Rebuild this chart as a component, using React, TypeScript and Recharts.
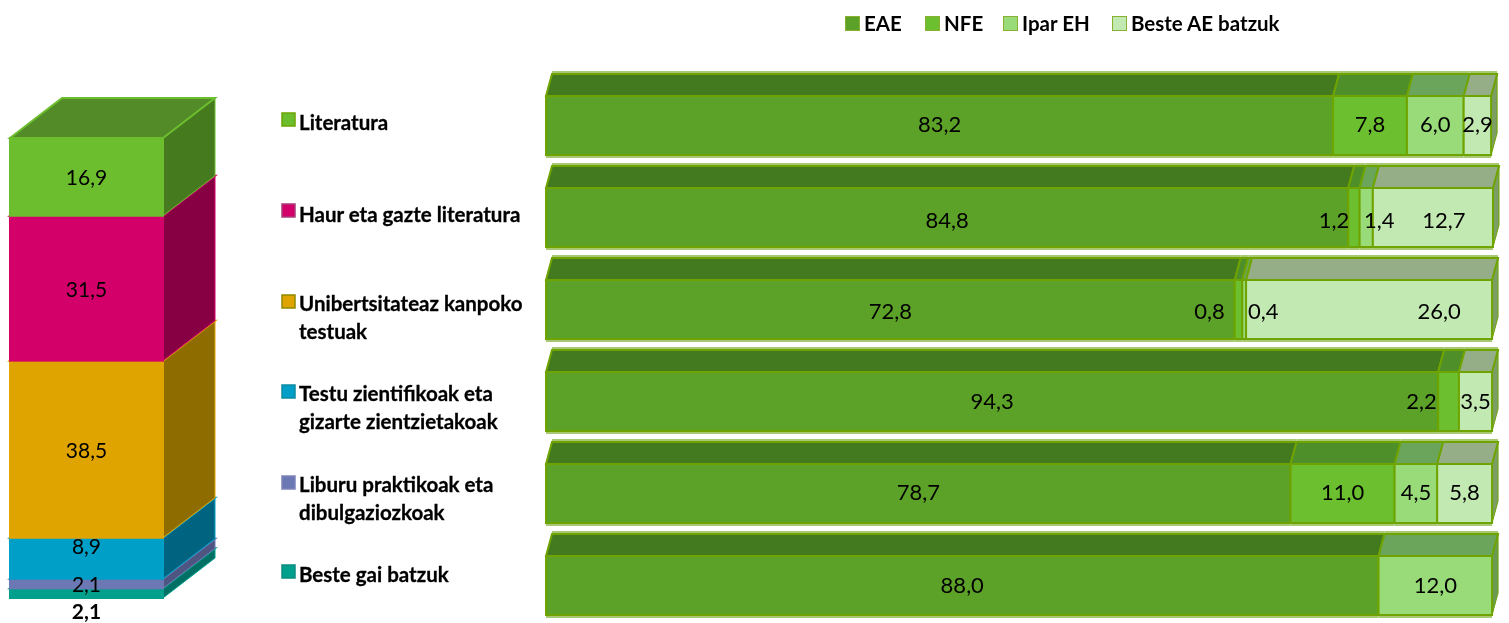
import { Bar, BarChart, LabelList, Legend, XAxis, YAxis } from 'recharts';

// left column, listed bottom to top
const topicNames = ['Beste gai batzuk', 'Liburu praktikoak', 'Testu zientifikoak', 'Unibertsitatez kanpoko', 'Haur eta gazte', 'Literatura'];
const topicShares = [2.1, 2.1, 8.9, 38.5, 31.5, 16.9];
const topicColors = ['#00A08C', '#6C78B4', '#009FC8', '#E0A400', '#D4006A', '#6CBE2F'];
const topicSides = ['#007064', '#4E5580', '#006480', '#8F6C00', '#880044', '#467A1E'];

// right bars
const rowLabels = [
  ['Literatura'],
  ['Haur eta gazte literatura'],
  ['Unibertsitateaz kanpoko', 'testuak'],
  ['Testu zientifikoak eta', 'gizarte zientzietakoak'],
  ['Liburu praktikoak eta', 'dibulgaziozkoak'],
  ['Beste gai batzuk'],
];
const rowSwatches = ['#6CBE2F', '#D4006A', '#E0A400', '#009FC8', '#6C78B4', '#00A08C'];
const swatchEdges = ['#6FA400', '#A83C78', '#8F8A00', '#0E8CA0', '#7C84B8', '#0E8C80'];
const eae = [83.2, 84.8, 72.8, 94.3, 78.7, 88.0];
const nfe = [7.8, 1.2, 0.8, 2.2, 11.0, 0];
const ipar = [6.0, 1.4, 0.4, 0, 4.5, 12.0];
const beste = [2.9, 12.7, 26.0, 3.5, 5.8, 0];

const regionNames = ['EAE', 'NFE', 'Ipar EH', 'Beste AE batzuk'];
const regionKeys = ['eae', 'nfe', 'ipar', 'beste'];
const regionColors = ['#5CA228', '#6CC030', '#98DB78', '#C2E9B2'];
const regionTops = ['#437A1F', '#4F8F2A', '#6BA55C', '#96AE88'];
const regionSides = ['#5c8a35', '#5c8a35', '#6b9a55', '#7C9E66'];

const columnData = [
  Object.fromEntries(topicNames.map((n, i) => [n, topicShares[i]])),
];
const rowData = rowLabels.map((label, i) => ({
  name: label.join(' '),
  eae: eae[i],
  nfe: nfe[i],
  ipar: ipar[i],
  beste: beste[i],
}));

// hand placed nudges, the source moved these labels off centre
const columnLabelDy = [17, 0, -13, 0, 0, 0];
const rowLabelDx: number[][] = [
  [0, 0, 0, 0],
  [0, -20, 13, 11],
  [0, -29, 19, 70],
  [0, -27, 0, 0],
  [0, 0, 0, 0],
  [0, 0, 0, 0],
];
const rowLabelDy = [-2, 2, 1, -1, -2, -1];
const tickDy = [-3, -4, -5, -7, -8, -11];
const tickTextDy = [8, 9, 7, 7, 7, 8];

const FONT = 'Lato, sans-serif';
const EDGE = '#6FA400';
const GLOW = '#A9C873';

const fmt = (v: number) => v.toFixed(1).replace('.', ',');

const Box3D = (props: any) => {
  const { x, y, width, height, fill, top, side, edge, dx, dy, glow } = props;
  if (!width || !height) return null;
  const r = x + width;
  const b = y + height;
  return (
    <g>
      <polygon
        points={`${r},${y} ${r + dx},${y - dy} ${r + dx},${b - dy} ${r},${b}`}
        fill={side}
        stroke={edge}
        strokeWidth={1}
      />
      <polygon
        points={`${x},${y} ${x + dx},${y - dy} ${r + dx},${y - dy} ${r},${y}`}
        fill={top}
        stroke={edge}
        strokeWidth={2}
      />
      <rect x={x} y={y} width={width} height={height} fill={fill} stroke={edge} strokeWidth={2} />
      {glow && (
        <>
          <line x1={x} x2={r} y1={b + 2} y2={b + 2} stroke={GLOW} strokeWidth={2} />
          <line x1={x + dx} x2={r + dx} y1={y - dy - 2} y2={y - dy - 2} stroke={GLOW} strokeWidth={2} />
        </>
      )}
    </g>
  );
};

const RowTick = (props: any) => {
  const { y, index } = props;
  const lines = rowLabels[index];
  const top = y + tickDy[index];
  return (
    <g>
      <rect x={12} y={top - 9} width={13} height={13} fill={rowSwatches[index]} stroke={swatchEdges[index]} strokeWidth={1.5} />
      {lines.map((line, i) => (
        <text
          key={line}
          x={29}
          y={top + tickTextDy[index] + i * 27.5}
          fontFamily={FONT}
          fontWeight={700}
          fontSize={20.5}
          fill="#000"
          stroke="#000"
          strokeWidth={0.3}
        >
          {line}
        </text>
      ))}
    </g>
  );
};

const RegionLegend = () => (
  <div style={{ fontFamily: FONT, fontWeight: 700, fontSize: 20.5, color: '#000', position: 'relative', height: 0 }}>
    {regionNames.map((name, i) => (
      <span
        key={name}
        style={{ position: 'absolute', left: [0, 80, 158, 267][i], top: 0, display: 'flex', alignItems: 'center', whiteSpace: 'nowrap' }}
      >
        <span
          style={{
            width: 13,
            height: 13,
            background: regionColors[i],
            border: '1px solid #8ab030',
            marginRight: 4,
            display: 'inline-block',
          }}
        />
        {name}
      </span>
    ))}
  </div>
);

const App = () => {
  const columnLabel = (i: number) => (props: any) => {
    const { x, y, width, height, value } = props;
    return (
      <text
        x={x + width / 2}
        y={y + height / 2 + columnLabelDy[i]}
        textAnchor="middle"
        dominantBaseline="central"
        fontFamily={FONT}
        fontSize={21}
        fontWeight={i === 0 ? 700 : 400}
        fill="#000"
      >
        {fmt(value)}
      </text>
    );
  };

  const rowValueLabel = (k: number) => (props: any) => {
    const { x, y, width, height, value, index } = props;
    if (!value) return null;
    return (
      <text
        x={x + width / 2 + rowLabelDx[index][k]}
        y={y + height / 2 + rowLabelDy[index]}
        textAnchor="middle"
        dominantBaseline="central"
        fontFamily={FONT}
        fontSize={22}
        fill="#000"
      >
        {fmt(value)}
      </text>
    );
  };

  return (
    <div style={{ position: 'absolute', left: 0, top: 0, width: 1509, height: 623, overflow: 'hidden', background: '#fff', filter: 'blur(0.4px)' }}>
      <div style={{ position: 'absolute', left: 0, top: 0 }}>
        <BarChart
          width={270}
          height={623}
          data={columnData}
          margin={{ top: 138, right: 107, bottom: 25, left: 10 }}
          barCategoryGap={0}
        >
          <XAxis hide dataKey={() => 'all'} />
          <YAxis hide type="number" domain={[0, 100]} />
          {topicNames.map((name, i) => (
            <Bar
              key={name}
              dataKey={name}
              stackId="a"
              fill={topicColors[i]}
              isAnimationActive={false}
              shape={(p: any) => (
                <Box3D {...p} top={i === topicNames.length - 1 ? '#528B28' : topicSides[i]} side={topicSides[i]} edge={topicColors[i]} dx={52} dy={40} />
              )}
            >
              <LabelList dataKey={name} content={columnLabel(i)} />
            </Bar>
          ))}
        </BarChart>
      </div>
      <div style={{ position: 'absolute', left: 270, top: 0 }}>
        <BarChart
          layout="vertical"
          width={1239}
          height={640}
          data={rowData}
          margin={{ top: 79, right: 16, bottom: 9, left: 0 }}
          barSize={59}
        >
          <XAxis hide type="number" domain={[0, 100]} />
          <YAxis
            type="category"
            dataKey="name"
            width={276}
            axisLine={false}
            tickLine={false}
            tick={<RowTick />}
            interval={0}
          />
          <Legend
            content={<RegionLegend />}
            wrapperStyle={{ position: 'absolute', left: 575, top: 11, width: 440, height: 0, bottom: 'auto' }}
          />
          {regionKeys.map((key, k) => (
            <Bar
              key={key}
              dataKey={key}
              name={regionNames[k]}
              stackId="r"
              fill={regionColors[k]}
              isAnimationActive={false}
              shape={(p: any) => (
                <Box3D {...p} top={regionTops[k]} side={regionSides[k]} edge={EDGE} dx={6} dy={22} glow />
              )}
            >
              <LabelList dataKey={key} content={rowValueLabel(k)} />
            </Bar>
          ))}
        </BarChart>
      </div>
    </div>
  );
};

export default App;
